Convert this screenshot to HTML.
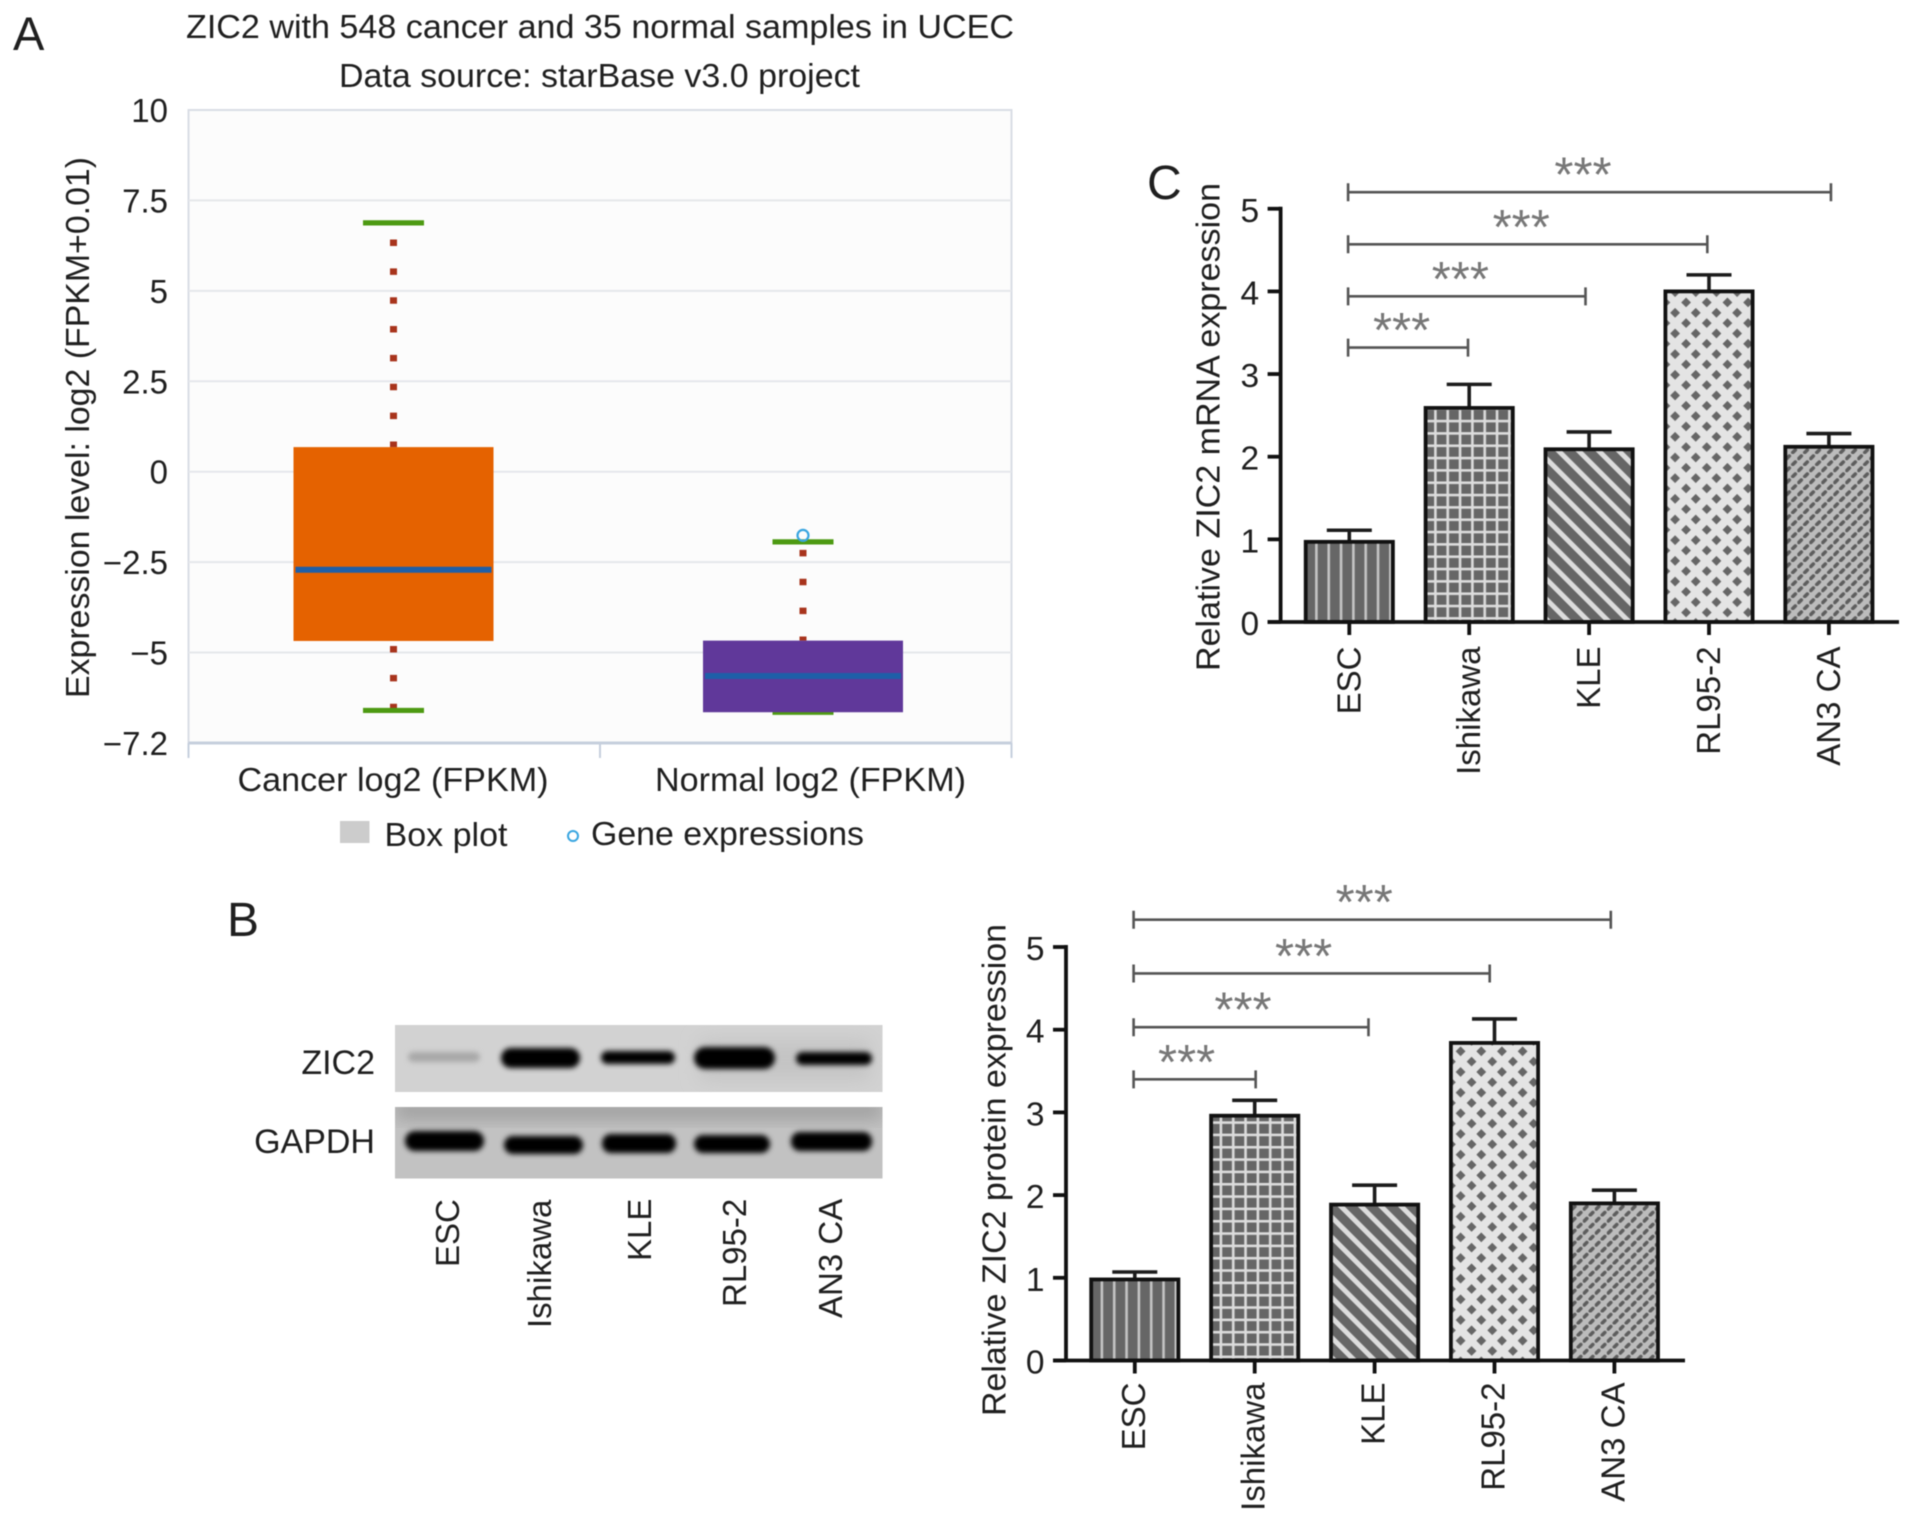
<!DOCTYPE html>
<html lang="en">
<head>
<meta charset="utf-8">
<title>ZIC2 expression figure</title>
<style>
html,body{margin:0;padding:0;background:#fff;width:1913px;height:1523px;overflow:hidden}
svg{display:block;filter:blur(.55px)}
text{font-family:"Liberation Sans",sans-serif;fill:#1f1f1f}
</style>
</head>
<body>
<svg id="fig" width="1913" height="1523" viewBox="0 0 1913 1523">
  <defs>
    <filter id="blot-blur" x="-20%" y="-80%" width="140%" height="260%"><feGaussianBlur stdDeviation="2.6"/></filter>
    <filter id="blot-soft" x="-20%" y="-60%" width="140%" height="220%"><feGaussianBlur stdDeviation="9"/></filter>
    <pattern id="pat-vertical" patternUnits="userSpaceOnUse" width="12.33" height="12.33">
      <rect width="12.33" height="12.33" fill="#666"/><rect x="9.4" width="2.6" height="12.33" fill="#c4c4c4"/>
    </pattern>
    <pattern id="pat-grid" patternUnits="userSpaceOnUse" width="12.33" height="12.33">
      <rect width="12.33" height="12.33" fill="#666"/><rect x="8.5" width="2.6" height="12.33" fill="#dcdcdc"/><rect y="7.4" width="12.33" height="2.6" fill="#dcdcdc"/>
    </pattern>
    <pattern id="pat-diagonal" patternUnits="userSpaceOnUse" width="14.2" height="14.2" patternTransform="rotate(-45)">
      <rect width="14.2" height="14.2" fill="#666"/><rect width="5" height="14.2" fill="#dcdcdc"/>
    </pattern>
    <pattern id="pat-diamond" patternUnits="userSpaceOnUse" width="20.67" height="20.67">
      <rect width="20.67" height="20.67" fill="#e4e4e4"/>
      <path d="M9.7 -4L14.6 .87L9.7 5.8L4.8 .87ZM9.7 16.6L14.6 21.5L9.7 26.4L4.8 21.5ZM0 6.3L4.9 11.17L0 16L-4.9 11.17ZM20.67 6.3L25.6 11.17L20.67 16L15.8 11.17Z" fill="#666"/>
    </pattern>
    <pattern id="pat-slash" patternUnits="userSpaceOnUse" width="12" height="12">
      <rect width="12" height="12" fill="#bcbcbc"/>
      <path d="M1.5 4.5L4 2M7.5 10.5L10 8" stroke="#5e5e5e" stroke-width="3.6" stroke-linecap="round" fill="none"/>
    </pattern>
  </defs>

  <text x="13" y="50" font-size="47">A</text>
  <text x="227" y="936" font-size="48">B</text>
  <text x="1147" y="199" font-size="48">C</text>

  <text x="186" y="38" font-size="33" textLength="828" lengthAdjust="spacingAndGlyphs">ZIC2 with 548 cancer and 35 normal samples in UCEC</text>
  <text x="339" y="87" font-size="33" textLength="521" lengthAdjust="spacingAndGlyphs">Data source: starBase v3.0 project</text>
  <text transform="translate(89,698) rotate(-90)" font-size="33" textLength="541" lengthAdjust="spacingAndGlyphs">Expression level: log2 (FPKM+0.01)</text>

  <g id="box-plot"></g>

  <g>
    <rect x="340" y="821" width="29.5" height="22" fill="#cccccc"/>
    <text x="384.5" y="846" font-size="33" textLength="123" lengthAdjust="spacingAndGlyphs">Box plot</text>
    <circle cx="573" cy="836" r="5" fill="#fff" stroke="#38a5e0" stroke-width="2"/>
    <text x="591" y="845" font-size="33" textLength="273" lengthAdjust="spacingAndGlyphs">Gene expressions</text>
  </g>

  <g>
    <clipPath id="clip-top"><rect x="395" y="1025" width="487.5" height="67"/></clipPath>
    <clipPath id="clip-bottom"><rect x="395" y="1107" width="487.5" height="71.5"/></clipPath>
    <g clip-path="url(#clip-top)">
      <rect x="395" y="1025" width="487.5" height="67" fill="#d2d2d2"/>
      <rect x="700" y="1040" width="170" height="40" fill="#c4c4c4" filter="url(#blot-soft)"/>
      <rect x="408" y="1052" width="72" height="10" rx="5" fill="#a8a8a8" filter="url(#blot-blur)"/>
      <rect x="501" y="1048" width="79" height="20" rx="10" fill="#040404" filter="url(#blot-blur)"/>
      <rect x="601" y="1051" width="74" height="13" rx="6.5" fill="#060606" filter="url(#blot-blur)"/>
      <rect x="694" y="1047" width="81" height="22" rx="11" fill="#030303" filter="url(#blot-blur)"/>
      <rect x="796" y="1052" width="76" height="13" rx="6.5" fill="#060606" filter="url(#blot-blur)"/>
    </g>
    <g clip-path="url(#clip-bottom)">
      <rect x="395" y="1107" width="487.5" height="71.5" fill="#c2c2c2"/>
      <rect x="395" y="1102" width="487.5" height="16" fill="#989898" filter="url(#blot-soft)"/>
      <rect x="405" y="1131" width="79" height="20" rx="10" fill="#030303" filter="url(#blot-blur)"/>
      <rect x="504" y="1136" width="79" height="18" rx="9" fill="#030303" filter="url(#blot-blur)"/>
      <rect x="602" y="1134" width="74" height="19" rx="9" fill="#030303" filter="url(#blot-blur)"/>
      <rect x="694" y="1135" width="76" height="18" rx="9" fill="#030303" filter="url(#blot-blur)"/>
      <rect x="791" y="1132" width="81" height="19" rx="9" fill="#030303" filter="url(#blot-blur)"/>
    </g>
    <text x="375" y="1074" font-size="34" text-anchor="end">ZIC2</text>
    <text x="375" y="1153" font-size="34" text-anchor="end">GAPDH</text>
    <text transform="translate(459,1267) rotate(-90)" font-size="33">ESC</text>
    <text transform="translate(551,1328) rotate(-90)" font-size="33">Ishikawa</text>
    <text transform="translate(651,1261) rotate(-90)" font-size="33">KLE</text>
    <text transform="translate(746,1307) rotate(-90)" font-size="33">RL95-2</text>
    <text transform="translate(842,1318) rotate(-90)" font-size="33">AN3 CA</text>
  </g>

  <text transform="translate(1219.5,671) rotate(-90)" font-size="33" textLength="488" lengthAdjust="spacingAndGlyphs">Relative ZIC2 mRNA expression</text>
  <g id="mrna-chart"></g>

  <text transform="translate(1005.5,1416) rotate(-90)" font-size="33" textLength="492" lengthAdjust="spacingAndGlyphs">Relative ZIC2 protein expression</text>
  <g id="protein-chart"></g>
</svg>

<script>
// Box plot data (panel A)
const boxCategories = ['Cancer log2 (FPKM)', 'Normal log2 (FPKM)'];
const boxQ1 = [-4.68, -6.65];
const boxMedian = [-2.71, -5.65];
const boxQ3 = [0.68, -4.67];
const boxWhiskerLow = [-6.6, -6.65];
const boxWhiskerHigh = [6.88, -1.94];
const boxFill = ['#e56200', '#60389a'];
const boxOutliers = [null, -1.76];
const boxTickValues = [10, 7.5, 5, 2.5, 0, -2.5, -5, -7.5];
const boxTickLabels = ['10', '7.5', '5', '2.5', '0', '\u22122.5', '\u22125', '\u22127.2'];

// Bar chart data (panels B and C)
const barCategories = ['ESC', 'Ishikawa', 'KLE', 'RL95-2', 'AN3 CA'];
const barPatterns = ['pat-vertical', 'pat-grid', 'pat-diagonal', 'pat-diamond', 'pat-slash'];
const barTicks = [0, 1, 2, 3, 4, 5];
const mrnaValues = [0.97, 2.59, 2.09, 4.0, 2.12];
const mrnaErrorTops = [1.11, 2.875, 2.3, 4.2, 2.28];
const mrnaBracketEnds = [0.99, 1.97, 2.986, 4.017];
const mrnaBracketLevels = [3.32, 3.94, 4.57, 5.2];
const proteinValues = [0.98, 2.96, 1.885, 3.84, 1.9];
const proteinErrorTops = [1.07, 3.146, 2.12, 4.13, 2.06];
const proteinBracketEnds = [1.008, 1.949, 2.96, 3.97];
const proteinBracketLevels = [3.4, 4.03, 4.68, 5.33];

const SVGNS = 'http://www.w3.org/2000/svg';
function mk(tag, attrs, parent, txt) {
  const n = document.createElementNS(SVGNS, tag);
  for (const k in attrs) n.setAttribute(k, attrs[k]);
  if (txt !== undefined) n.textContent = txt;
  parent.appendChild(n);
  return n;
}

// ---------- Panel A ----------
(function () {
  const root = document.getElementById('box-plot');
  const yA = v => 471.7 - 36.17 * v;
  const xA = i => 393.5 + 409.5 * i;
  const L = 188.5, R = 1011.5, T = yA(10), B = yA(-7.5);
  let el;
  el = mk('rect', {x: L, y: T, width: R - L, height: B - T, fill: '#fcfcfc', stroke: '#d9dde5', 'stroke-width': 2}, root);
  
  
  boxTickValues.forEach((v, i) => {
    if (i > 0 && i < boxTickValues.length - 1) {
      el = mk('line', {x1: L, x2: R, y1: yA(v), y2: yA(v), stroke: '#e5e7eb', 'stroke-width': 2}, root);
      
      
    }
    el = mk('text', {x: 168, y: yA(v) + 12, 'font-size': 33, 'text-anchor': 'end'}, root, boxTickLabels[i]);
    
    
  });
  el = mk('line', {x1: L, x2: R, y1: B, y2: B, stroke: '#c6cfdd', 'stroke-width': 3}, root);
  
  
  [L, (L + R) / 2, R].forEach(x => {
    el = mk('line', {x1: x, x2: x, y1: B, y2: B + 15, stroke: '#c6cfdd', 'stroke-width': 2}, root);
    
    
  });
  const capW = 61, boxW = 200, medColor = '#1e5fa8', capColor = '#4d9a12', dotColor = '#a8341c';
  const offsets = [[12.2, 23.8], [20.8, 0]];
  boxCategories.forEach((c, i) => {
    const cx = xA(i);
    el = mk('line', {x1: cx, x2: cx, y1: yA(boxWhiskerHigh[i]), y2: yA(boxQ3[i]), stroke: dotColor, 'stroke-width': 7, 'stroke-dasharray': '6.5 22.35', 'stroke-dashoffset': offsets[i][0]}, root);
    
    
    if (boxQ1[i] - boxWhiskerLow[i] > 0.1) {
      el = mk('line', {x1: cx, x2: cx, y1: yA(boxQ1[i]), y2: yA(boxWhiskerLow[i]), stroke: dotColor, 'stroke-width': 7, 'stroke-dasharray': '6.5 22.35', 'stroke-dashoffset': offsets[i][1] || 23.8}, root);
      
      
    }
    el = mk('line', {x1: cx - capW / 2, x2: cx + capW / 2, y1: yA(boxWhiskerHigh[i]), y2: yA(boxWhiskerHigh[i]), stroke: capColor, 'stroke-width': 5.2}, root);
    
    
    el = mk('line', {x1: cx - capW / 2, x2: cx + capW / 2, y1: yA(boxWhiskerLow[i]), y2: yA(boxWhiskerLow[i]), stroke: capColor, 'stroke-width': 5.2}, root);
    
    
    el = mk('rect', {x: cx - boxW / 2, y: yA(boxQ3[i]), width: boxW, height: yA(boxQ1[i]) - yA(boxQ3[i]), fill: boxFill[i]}, root);
    
    
    el = mk('line', {x1: cx - boxW / 2 + 2, x2: cx + boxW / 2 - 2, y1: yA(boxMedian[i]), y2: yA(boxMedian[i]), stroke: medColor, 'stroke-width': 6}, root);
    
    
    if (boxOutliers[i] !== null) {
      el = mk('circle', {cx: cx, cy: yA(boxOutliers[i]), r: 5.5, fill: 'none', stroke: '#38a5e0', 'stroke-width': 2.2}, root);
      
      
    }
    el = mk('text', {x: cx + (i ? 7.5 : -0.5), y: 791, 'font-size': 33, 'text-anchor': 'middle', textLength: 311, lengthAdjust: 'spacingAndGlyphs'}, root, c);
    
    
  });
})();

// ---------- Panels B, C ----------
function drawBars(rootId, cfg, values, tops, ends, levels) {
  const root = document.getElementById(rootId);
  const y = v => cfg.base - cfg.unit * v;
  const x = i => cfg.x0 + cfg.step * i;
  let el;
  values.forEach((v, i) => {
    el = mk('line', {x1: x(i), x2: x(i), y1: y(v), y2: y(tops[i]), stroke: '#1c1c1c', 'stroke-width': 3.6}, root);
    
    
    el = mk('line', {x1: x(i) - 22.5, x2: x(i) + 22.5, y1: y(tops[i]), y2: y(tops[i]), stroke: '#1c1c1c', 'stroke-width': 3.6}, root);
    
    
    const g = mk('g', {transform: 'translate(' + (x(i) - 43.6) + ',' + cfg.base + ')'}, root);
    el = mk('rect', {x: 0, y: y(v) - cfg.base, width: 87.2, height: cfg.base - y(v), fill: 'url(#' + barPatterns[i] + ')', stroke: '#111', 'stroke-width': 3.8}, g);
    
    
    el = mk('line', {x1: x(i), x2: x(i), y1: cfg.base, y2: cfg.base + 13, stroke: '#111', 'stroke-width': 3.8}, root);
    
    
    el = mk('text', {transform: 'translate(' + (x(i) + cfg.labelDx) + ',' + cfg.labelTop + ') rotate(-90)', 'font-size': 33, 'text-anchor': 'end'}, root, barCategories[i]);
    
    
  });
  el = mk('line', {x1: cfg.axisX, x2: cfg.axisX, y1: y(5) - 2, y2: cfg.base, stroke: '#111', 'stroke-width': 3.8}, root);
  
  
  el = mk('line', {x1: cfg.axisX - 13, x2: cfg.axisEnd, y1: cfg.base, y2: cfg.base, stroke: '#111', 'stroke-width': 3.8}, root);
  
  
  barTicks.forEach(t => {
    el = mk('line', {x1: cfg.axisX - 13, x2: cfg.axisX, y1: y(t), y2: y(t), stroke: '#111', 'stroke-width': 3.8}, root);
    
    
    el = mk('text', {x: cfg.axisX - 21.5, y: y(t) + 13, 'font-size': 33.5, 'text-anchor': 'end'}, root, String(t));
    
    
  });
  ends.forEach((t, k) => {
    const yb = y(levels[k]), x1 = x(0) - 1.2, x2 = x(t);
    el = mk('path', {d: 'M' + x1 + ' ' + (yb - 9) + 'V' + (yb + 9) + 'M' + x1 + ' ' + yb + 'H' + x2 + 'M' + x2 + ' ' + (yb - 9) + 'V' + (yb + 9), fill: 'none', stroke: '#555', 'stroke-width': 2.6}, root);
    
    
    el = mk('text', {x: (x1 + x2) / 2 + cfg.starDx, y: yb - 0.5, 'font-size': 49, 'text-anchor': 'middle', style: 'fill:#777'}, root, '***');
    
    
  });
}
drawBars('mrna-chart', {base: 622, unit: 82.65, x0: 1349.3, step: 119.9, axisX: 1280.6, axisEnd: 1899, labelDx: 11, labelTop: 646.5, starDx: -6.5}, mrnaValues, mrnaErrorTops, mrnaBracketEnds, mrnaBracketLevels);
drawBars('protein-chart', {base: 1360.5, unit: 82.7, x0: 1134.8, step: 119.9, axisX: 1066, axisEnd: 1685, labelDx: 10, labelTop: 1382.5, starDx: -8}, proteinValues, proteinErrorTops, proteinBracketEnds, proteinBracketLevels);
</script>
</body>
</html>
